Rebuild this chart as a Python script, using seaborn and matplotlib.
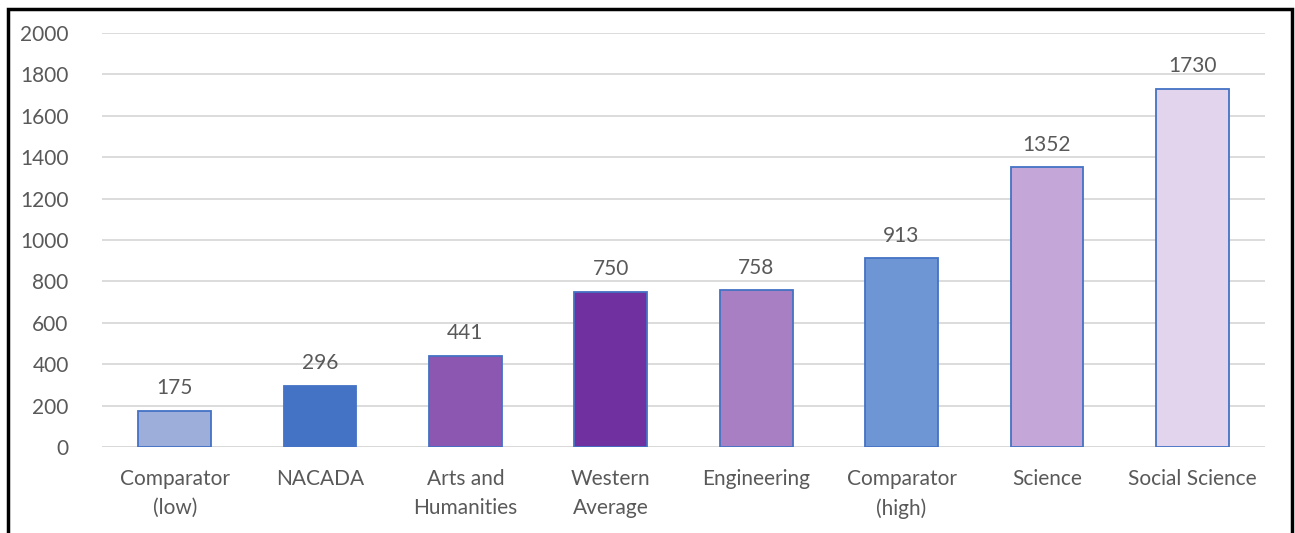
import matplotlib
matplotlib.use("Agg")
import matplotlib.pyplot as plt
import seaborn as sns
import pandas as pd
from matplotlib.patches import Rectangle

categories = ["Comparator\n(low)", "NACADA", "Arts and\nHumanities", "Western\nAverage",
              "Engineering", "Comparator\n(high)", "Science", "Social Science"]
values = [175, 296, 441, 750, 758, 913, 1352, 1730]
colors = ["#9eaedb", "#4472c4", "#8b57b0", "#7030a0", "#a77fc2", "#6f96d4", "#c4a7d8", "#e1d4ec"]
yticks = [0, 200, 400, 600, 800, 1000, 1200, 1400, 1600, 1800, 2000]

sns.set_theme(style="white")
plt.rcParams['font.family'] = ['Lato', 'DejaVu Sans']
gray = "#595959"
fs = 15

df = pd.DataFrame({"cat": categories, "val": values})
fig = plt.figure(figsize=(12.95, 5.33), dpi=100)
ax = fig.add_axes([102/1295, 1-447/533, (1265-102)/1295, (447-33)/533])

sns.barplot(data=df, x="cat", y="val", hue="cat", palette=colors, legend=False,
            saturation=1, width=0.5, ax=ax, edgecolor="#4472c4", linewidth=1.3, zorder=3)

ax.set_ylim(0, 2000)
ax.set_yticks(yticks)
ax.set_yticklabels([str(t) for t in yticks])
ax.yaxis.grid(True, color="#d9d9d9", linewidth=1.3, zorder=0)
ax.set_axisbelow(True)
for s in ax.spines.values():
    s.set_visible(False)
ax.set_xlabel("")
ax.set_ylabel("")
ax.tick_params(axis="both", length=0, labelsize=fs, labelcolor=gray)
ax.tick_params(axis="y", pad=24)
ax.tick_params(axis="x", pad=16)
for lbl in ax.get_xticklabels():
    lbl.set_linespacing(1.55)
ax.axhline(0, color="#d9d9d9", linewidth=1.3, zorder=1)

for i, v in enumerate(values):
    ax.annotate(str(v), (i, v), xytext=(0, 9), textcoords="offset points",
                ha="center", va="bottom", fontsize=fs, color=gray)

fig.patches.append(Rectangle((8/1295, -0.05), (1292-8)/1295, 1-9/533 + 0.05,
                             transform=fig.transFigure, fill=False,
                             edgecolor="black", linewidth=2.5))

fig.savefig("out.png", dpi=100)
